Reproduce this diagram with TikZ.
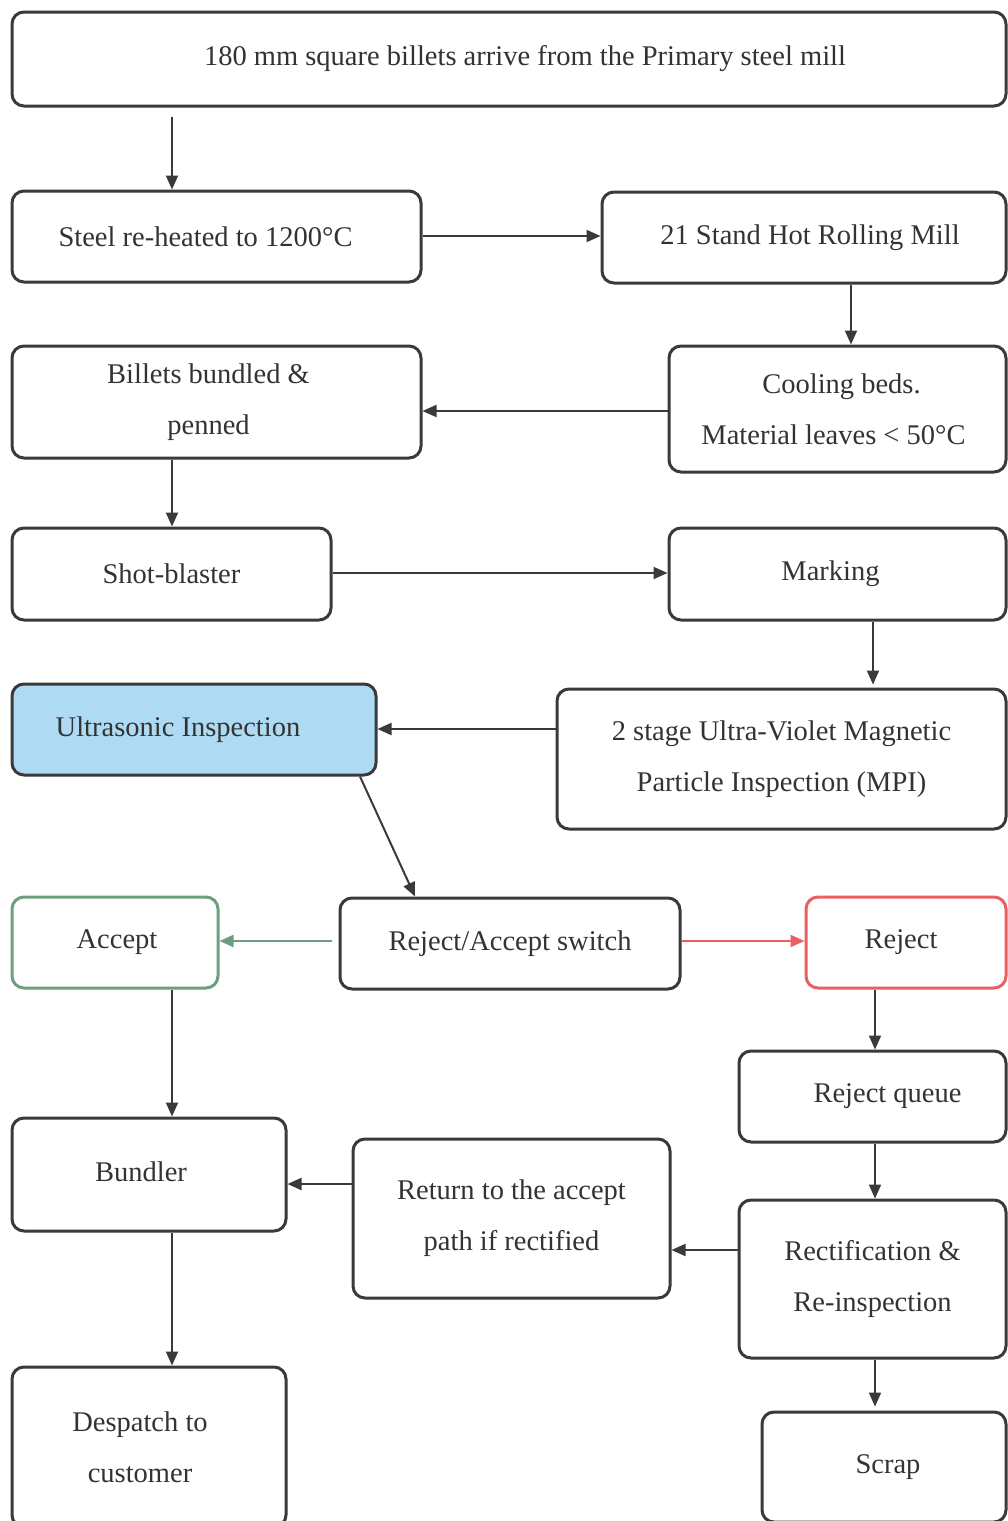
\documentclass[tikz,border=0pt]{standalone}
\usepackage{fontspec}
\setmainfont{Liberation Serif}
\usetikzlibrary{arrows.meta}
\definecolor{boxline}{HTML}{3A3A3C}
\definecolor{txt}{HTML}{333333}
\definecolor{ublue}{HTML}{AEDBF3}
\definecolor{agreen}{HTML}{6E9E80}
\definecolor{rred}{HTML}{E86060}
\tikzset{
  box/.style={draw=boxline, line width=3pt, rounded corners=12pt, fill=white,
    align=center, text=txt, inner sep=0pt,
    font=\fontsize{28.5}{51}\selectfont},
  arr/.style={draw=boxline, line width=2pt, -{Triangle[length=14pt,width=12pt]}},
  garr/.style={draw=agreen, line width=2pt, -{Triangle[length=14pt,width=12pt]}},
  rarr/.style={draw=rred, line width=2pt, -{Triangle[length=14pt,width=12pt]}}
}
\begin{document}
\begin{tikzpicture}[x=1pt,y=-1pt]
\clip (0,0) rectangle (1008,1521);
\fill[white] (0,0) rectangle (1008,1521);
\node[box, minimum width=994pt, minimum height=94pt] (top) at (509,59) {\hspace*{32pt}180 mm square billets arrive from the Primary steel mill};
\node[box, minimum width=409pt, minimum height=91pt] (reheat) at (216.5,236.5) {Steel re-heated to 1200°C\hspace*{22pt}};
\node[box, minimum width=404pt, minimum height=91pt] (rolling) at (804,237.5) {\hspace*{12pt}21 Stand Hot Rolling Mill};
\node[box, minimum width=409pt, minimum height=112pt] (bundled) at (216.5,402) {Billets bundled \&\hspace*{16pt}\\penned\hspace*{16pt}};
\node[box, minimum width=337pt, minimum height=126pt] (cooling) at (837.5,409) {Cooling beds.\hspace*{-8pt}\\Material leaves < 50°C\hspace*{8pt}};
\node[box, minimum width=319pt, minimum height=92pt] (shot) at (171.5,574) {Shot-blaster};
\node[box, minimum width=337pt, minimum height=92pt] (marking) at (837.5,574) {\raisebox{5pt}{Marking}\hspace*{14pt}};
\node[box, fill=ublue, minimum width=364pt, minimum height=91pt] (ultra) at (194,729.5) {Ultrasonic Inspection\hspace*{32pt}};
\node[box, minimum width=449pt, minimum height=140pt] (mpi) at (781.5,759) {2 stage Ultra-Violet Magnetic\\Particle Inspection (MPI)};
\node[box, draw=agreen, minimum width=206pt, minimum height=91pt] (accept) at (115,942.5) {\hspace*{4pt}Accept};
\node[box, minimum width=340pt, minimum height=91pt] (switch) at (510,943.5) {Reject/Accept switch};
\node[box, draw=rred, minimum width=200pt, minimum height=91pt] (reject) at (906,942.5) {Reject\hspace*{10pt}};
\node[box, minimum width=267pt, minimum height=91pt] (queue) at (872.5,1096.5) {\hspace*{30pt}Reject queue};
\node[box, minimum width=274pt, minimum height=113pt] (bundler) at (149,1174.5) {\raisebox{6pt}{Bundler}\hspace*{16pt}};
\node[box, minimum width=317pt, minimum height=159pt] (return) at (511.5,1218.5) {Return to the accept\\path if rectified};
\node[box, minimum width=267pt, minimum height=158pt] (rect) at (872.5,1279) {Rectification \&\\Re-inspection};
\node[box, minimum width=274pt, minimum height=160pt] (despatch) at (149,1447) {Despatch to\hspace*{18pt}\\customer\hspace*{18pt}};
\node[box, minimum width=244pt, minimum height=110pt] (scrap) at (884,1467) {\hspace*{8pt}Scrap};

\draw[arr, shorten <=9pt] (top.south -| 172,0) -- (reheat.north -| 172,0);
\draw[arr] (reheat.east |- 0,236) -- (rolling.west |- 0,236);
\draw[arr] (rolling.south -| 851,0) -- (cooling.north -| 851,0);
\draw[arr] (cooling.west |- 0,411) -- (bundled.east |- 0,411);
\draw[arr] (bundled.south -| 172,0) -- (shot.north -| 172,0);
\draw[arr] (shot.east |- 0,573) -- (marking.west |- 0,573);
\draw[arr, shorten >=3pt] (marking.south -| 873,0) -- (mpi.north -| 873,0);
\draw[arr] (mpi.west |- 0,729) -- (ultra.east |- 0,729);
\draw[arr] (ultra.south -| 360,0) -- (switch.north -| 415,0);
\draw[garr, shorten <=7pt] (switch.west |- 0,941) -- (accept.east |- 0,941);
\draw[rarr] (switch.east |- 0,941) -- (reject.west |- 0,941);
\draw[arr] (accept.south -| 172,0) -- (bundler.north -| 172,0);
\draw[arr] (reject.south -| 875,0) -- (queue.north -| 875,0);
\draw[arr] (queue.south -| 875,0) -- (rect.north -| 875,0);
\draw[arr] (rect.west |- 0,1250) -- (return.east |- 0,1250);
\draw[arr] (return.west |- 0,1184) -- (bundler.east |- 0,1184);
\draw[arr] (bundler.south -| 172,0) -- (despatch.north -| 172,0);
\draw[arr, shorten >=4pt] (rect.south -| 875,0) -- (scrap.north -| 875,0);
\end{tikzpicture}
\end{document}
